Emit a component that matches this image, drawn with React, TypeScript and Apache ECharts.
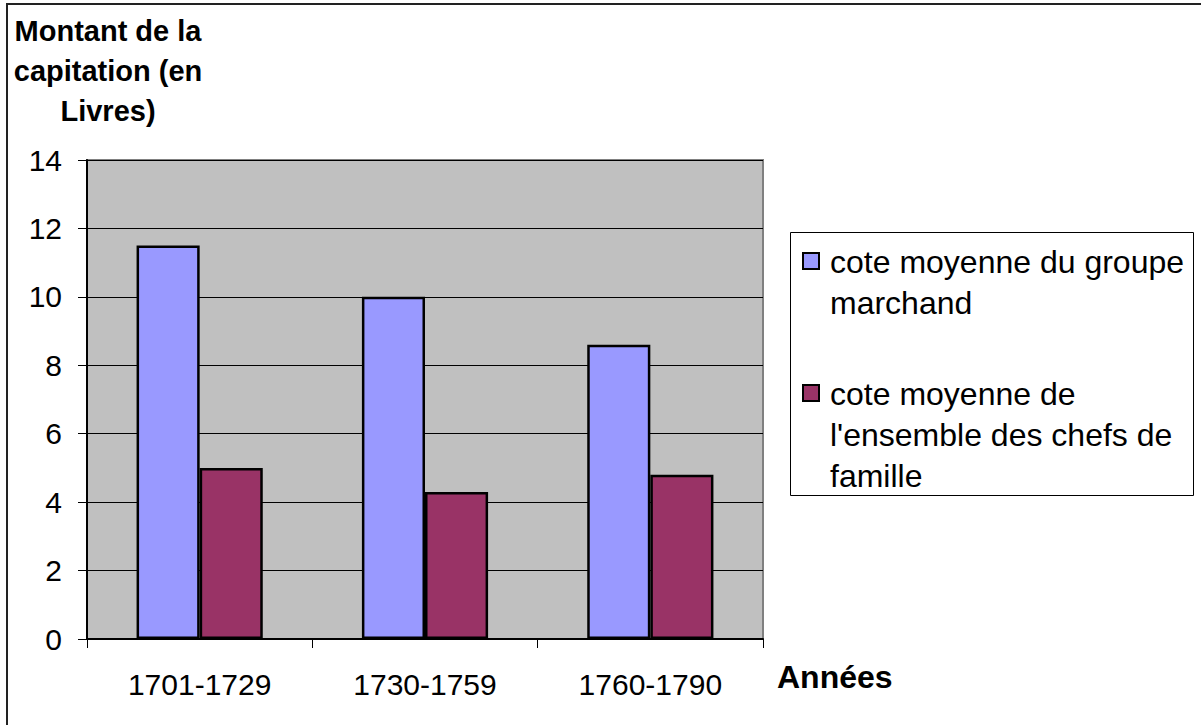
import React, { useEffect, useRef } from "react";
import * as echarts from "echarts";

const categories = ["1701-1729", "1730-1759", "1760-1790"];
const seriesNames = [
  "cote moyenne du groupe\nmarchand",
  "cote moyenne de\nl'ensemble des chefs de\nfamille",
];
const groupeMarchand = [11.5, 10.0, 8.6];
const ensembleChefs = [5.0, 4.3, 4.8];
const seriesColors = ["#9999FF", "#993366"];
const yTitle = "Montant de la\ncapitation (en\nLivres)";
const xTitle = "Années";

export default function App() {
  const ref = useRef<HTMLDivElement>(null);
  useEffect(() => {
    if (!ref.current) return;
    const chart = echarts.init(ref.current, undefined, { renderer: "svg" });
    const font = "Liberation Sans, Arial, sans-serif";
    const legendItems: any[] = [];
    const legendTop = [249, 381];
    seriesNames.forEach((name, i) => {
      legendItems.push({
        type: "rect",
        shape: { x: 803, y: legendTop[i] + 4, width: 16, height: 16 },
        style: { fill: seriesColors[i], stroke: "#000", lineWidth: 2 },
      });
      legendItems.push({
        type: "text",
        x: 830,
        y: legendTop[i] - 8,
        style: {
          text: name,
          font: `32px ${font}`,
          fill: "#000",
          lineHeight: 41,
          verticalAlign: "top",
        },
      });
    });
    chart.setOption({
      animation: false,
      backgroundColor: "#fff",
      grid: {
        left: 87,
        top: 160,
        right: 438,
        bottom: 86,
        show: true,
        backgroundColor: "#C0C0C0",
        borderColor: "#808080",
        borderWidth: 2,
      },
      xAxis: {
        type: "category",
        data: categories,
        axisLine: { show: true, lineStyle: { color: "#000", width: 2 } },
        axisTick: { show: true, length: 9, lineStyle: { color: "#000", width: 1 } },
        axisLabel: { color: "#000", fontSize: 30, fontFamily: font, margin: 30 },
      },
      yAxis: {
        type: "value",
        min: 0,
        max: 14,
        interval: 2,
        axisLine: { show: true, lineStyle: { color: "#000", width: 2 } },
        axisTick: { show: true, length: 9, lineStyle: { color: "#000", width: 1 } },
        axisLabel: { color: "#000", fontSize: 30, fontFamily: font, margin: 25 },
        splitLine: { show: true, lineStyle: { color: "#000", width: 1 } },
      },
      series: [
        {
          name: seriesNames[0],
          type: "bar",
          data: groupeMarchand,
          barGap: "0%",
          barCategoryGap: "44%",
          itemStyle: { color: seriesColors[0], borderColor: "#000", borderWidth: 2.5 },
        },
        {
          name: seriesNames[1],
          type: "bar",
          data: ensembleChefs,
          itemStyle: { color: seriesColors[1], borderColor: "#000", borderWidth: 2.5 },
        },
      ],
      graphic: [
        {
          type: "rect",
          shape: { x: 7, y: 4, width: 1300, height: 900 },
          style: { fill: "none", stroke: "#222", lineWidth: 2 },
          silent: true,
        },
        {
          type: "text",
          x: 108,
          y: 11,
          style: {
            text: yTitle,
            font: `bold 29px ${font}`,
            fill: "#000",
            align: "center",
            verticalAlign: "top",
            lineHeight: 40,
          },
        },
        {
          type: "text",
          x: 777,
          y: 677,
          style: {
            text: xTitle,
            font: `bold 32px ${font}`,
            fill: "#000",
            verticalAlign: "middle",
          },
        },
        {
          type: "rect",
          shape: { x: 790.5, y: 232.5, width: 403, height: 263 },
          style: { fill: "#fff", stroke: "#000", lineWidth: 1 },
        },
        ...legendItems,
      ],
    });
    return () => chart.dispose();
  }, []);
  return (
    <div
      ref={ref}
      style={{ position: "fixed", left: 0, top: 0, width: 1201, height: 725 }}
    />
  );
}
